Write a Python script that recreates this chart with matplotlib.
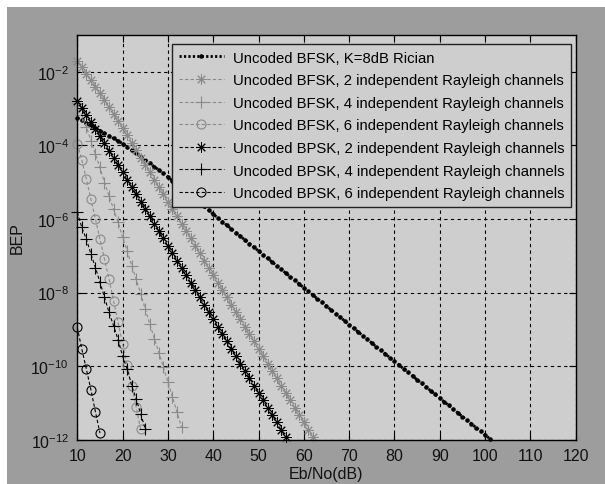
import matplotlib
matplotlib.use("Agg")
import matplotlib.pyplot as plt
from matplotlib.patches import Rectangle
import numpy as np

plt.rcParams["font.family"] = ["Liberation Sans", "DejaVu Sans"]
plt.rcParams["mathtext.default"] = "regular"

# ---- data: Eb/No in dB, log10(BEP) ----
snr_db = [10, 11, 12, 13, 14, 15, 16, 17, 18, 19, 20, 21, 22, 23, 24, 25, 26, 27, 28, 29,
          30, 31, 32, 33, 34, 35, 36, 37, 38, 39, 40, 41, 42, 43, 44, 45, 46, 47, 48, 49,
          50, 51, 52, 53, 54, 55, 56, 57, 58, 59, 60, 61, 62, 63, 64, 65, 66, 67, 68, 69,
          70, 71, 72, 73, 74, 75, 76, 77, 78, 79, 80, 81, 82, 83, 84, 85, 86, 87, 88, 89,
          90, 91, 92, 93, 94, 95, 96, 97, 98, 99, 100, 101]

rician_bfsk = [-3.25, -3.32, -3.39, -3.46, -3.53, -3.60, -3.67, -3.74, -3.81, -3.88,
               -3.95, -4.04, -4.13, -4.22, -4.31, -4.40, -4.49, -4.58, -4.67, -4.76,
               -4.86, -4.96, -5.06, -5.16, -5.26, -5.36, -5.46, -5.56, -5.66, -5.76,
               -5.87, -5.97, -6.07, -6.17, -6.27, -6.37, -6.47, -6.57, -6.67, -6.77,
               -6.87, -6.97, -7.07, -7.17, -7.27, -7.37, -7.47, -7.57, -7.67, -7.77,
               -7.87, -7.97, -8.07, -8.17, -8.27, -8.37, -8.47, -8.57, -8.67, -8.77,
               -8.87, -8.97, -9.07, -9.17, -9.27, -9.37, -9.47, -9.57, -9.67, -9.77,
               -9.87, -9.97, -10.07, -10.17, -10.27, -10.37, -10.47, -10.57, -10.67, -10.77,
               -10.87, -10.97, -11.07, -11.17, -11.27, -11.37, -11.47, -11.57, -11.67, -11.77,
               -11.87, -11.97]

bfsk_2ch = [-1.71, -1.88, -2.06, -2.23, -2.41, -2.59, -2.77, -2.96, -3.15, -3.34,
            -3.54, -3.73, -3.93, -4.13, -4.33, -4.53, -4.73, -4.93, -5.13, -5.33,
            -5.53, -5.73, -5.93, -6.13, -6.33, -6.53, -6.73, -6.93, -7.13, -7.33,
            -7.53, -7.73, -7.93, -8.13, -8.33, -8.53, -8.73, -8.93, -9.13, -9.33,
            -9.53, -9.73, -9.93, -10.13, -10.33, -10.53, -10.73, -10.93, -11.13, -11.33,
            -11.53, -11.73, -11.93]

bfsk_4ch = [-2.85, -3.17, -3.49, -3.87, -4.24, -4.60, -5.01, -5.37, -5.73, -6.09,
            -6.50, -6.86, -7.27, -7.63, -8.04, -8.45, -8.86, -9.25, -9.63, -10.03,
            -10.43, -10.84, -11.25, -11.66]

bfsk_6ch = [-3.96, -4.40, -4.92, -5.46, -6.00, -6.55, -7.09, -7.63, -8.22, -8.81,
            -9.40, -9.96, -10.53, -11.12, -11.72]

bpsk_2ch = [-2.79, -2.99, -3.18, -3.37, -3.56, -3.75, -3.94, -4.14, -4.33, -4.53,
            -4.73, -4.93, -5.13, -5.33, -5.53, -5.73, -5.93, -6.13, -6.33, -6.53,
            -6.73, -6.93, -7.13, -7.33, -7.53, -7.73, -7.93, -8.13, -8.33, -8.53,
            -8.73, -8.93, -9.13, -9.33, -9.53, -9.73, -9.93, -10.13, -10.33, -10.53,
            -10.73, -10.93, -11.13, -11.33, -11.53, -11.73, -11.93]

bpsk_4ch = [-5.82, -6.23, -6.55, -6.95, -7.32, -7.72, -8.13, -8.54, -8.90, -9.28,
            -9.73, -10.08, -10.53, -10.89, -11.30, -11.71]

bpsk_6ch = [-8.95, -9.54, -10.08, -10.64, -11.24, -11.82]

labels = [
    "Uncoded BFSK, K=8dB Rician",
    "Uncoded BFSK, 2 independent Rayleigh channels",
    "Uncoded BFSK, 4 independent Rayleigh channels",
    "Uncoded BFSK, 6 independent Rayleigh channels",
    "Uncoded BPSK, 2 independent Rayleigh channels",
    "Uncoded BPSK, 4 independent Rayleigh channels",
    "Uncoded BPSK, 6 independent Rayleigh channels",
]

xticks = [10, 20, 30, 40, 50, 60, 70, 80, 90, 100, 110, 120]
ytick_exp = [-12, -10, -8, -6, -4, -2]

FIG_BG = "#9d9d9d"
AX_BG = "#cecece"
GREY = "#8a8a8a"
ASTERISK = (8, 2, 0)

fig = plt.figure(figsize=(6.05, 4.85), dpi=100, facecolor="white")
fig.patches.append(Rectangle((7 / 605, 0), 1, 1 - 8 / 485, transform=fig.transFigure,
                             facecolor=FIG_BG, edgecolor="none", zorder=-10))
ax = fig.add_axes([77.3 / 605, 44.3 / 485, 498.4 / 605, 404.7 / 485])
ax.set_facecolor(AX_BG)

series = [
    (rician_bfsk, dict(color="black", lw=2.0, dashes=(0.8, 0.8), marker=".", ms=4.5)),
    (bfsk_2ch, dict(color=GREY, lw=0.8, dashes=(3, 2), marker=ASTERISK, ms=7.5, mew=0.7)),
    (bfsk_4ch, dict(color=GREY, lw=0.8, dashes=(3, 2), marker="+", ms=9, mew=0.8)),
    (bfsk_6ch, dict(color=GREY, lw=0.8, dashes=(3, 2), marker="o", ms=6.5, mfc="none", mew=0.8)),
    (bpsk_2ch, dict(color="black", lw=0.8, dashes=(3, 2), marker=ASTERISK, ms=7.5, mew=0.7)),
    (bpsk_4ch, dict(color="black", lw=0.8, dashes=(3, 2), marker="+", ms=9, mew=0.8)),
    (bpsk_6ch, dict(color="black", lw=0.8, dashes=(3, 2), marker="o", ms=6.5, mfc="none", mew=0.8)),
]

for (vals, style), lab in zip(series, labels):
    x = snr_db[:len(vals)]
    y = 10.0 ** np.array(vals)
    ax.plot(x, y, label=lab, clip_on=False, **style)

ax.set_yscale("log")
ax.set_xlim(10, 120)
ax.set_ylim(1e-12, 1e-1)
ax.set_xticks(xticks)
ax.set_yticks([10.0 ** e for e in ytick_exp])
ax.set_yticklabels([f"$10^{{{e}}}$" for e in ytick_exp])
ax.yaxis.set_minor_locator(matplotlib.ticker.NullLocator())
ax.tick_params(direction="in", length=5, width=0.8, top=True, right=True,
               labelsize=11.5, colors="black", labelcolor="#111111", pad=6)
ax.grid(True, color="black", lw=0.8, ls=(0, (3, 3)))
for s in ax.spines.values():
    s.set_linewidth(1.0)
    s.set_color("black")

ax.set_xlabel("Eb/No(dB)", fontsize=11.5, color="#111111", labelpad=2)
ax.set_ylabel("BEP", fontsize=11.5, color="#111111", labelpad=4)

leg = ax.legend(loc="upper right", bbox_to_anchor=(0.99, 0.978), borderaxespad=0,
                fontsize=10.7, fancybox=False, framealpha=1, facecolor=AX_BG,
                edgecolor="#222222", handlelength=3.0, labelspacing=0.58,
                borderpad=0.45, handletextpad=0.6)
leg.get_frame().set_linewidth(1.0)

fig.savefig("out.png", dpi=100, facecolor=fig.get_facecolor())
